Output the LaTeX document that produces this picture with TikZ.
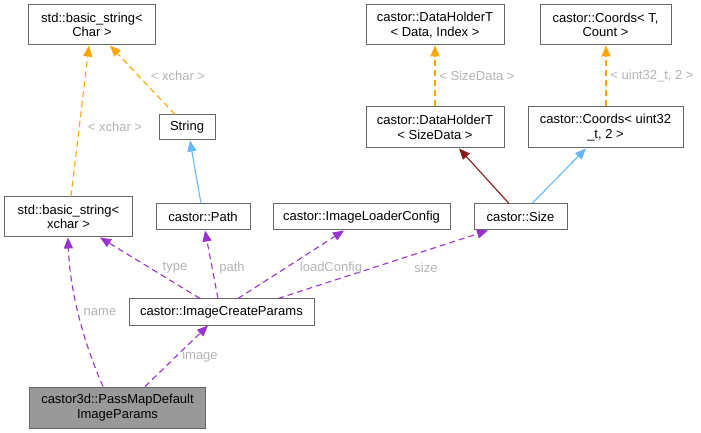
\documentclass[tikz,border=0pt]{standalone}
\usepackage{fontspec}
\setmainfont{Liberation Sans}
\usetikzlibrary{arrows.meta}
\definecolor{relpurple}{HTML}{9A32CD}
\definecolor{tplorange}{HTML}{FFA500}
\definecolor{pubblue}{HTML}{63B8FF}
\definecolor{privred}{HTML}{8B1A1A}
\definecolor{lblgray}{HTML}{B4B4B4}
\definecolor{boxgray}{HTML}{666666}
\tikzset{
  cls/.style={draw=boxgray,fill=white,line width=1bp,align=center,inner sep=0pt,font=\fontsize{13bp}{14.5bp}\selectfont},
  cur/.style={cls,fill=black!40},
  lbl/.style={text=lblgray,inner sep=0pt,font=\fontsize{13bp}{14.5bp}\selectfont},
  tip/.style={-{Triangle[length=11bp,width=9bp]}},
  usage/.style={tip,draw=relpurple,line width=1.1bp,dash pattern=on 6bp off 4bp},
  tmpl/.style={tip,draw=tplorange,line width=1.1bp,dash pattern=on 6bp off 4bp},
  pub/.style={tip,draw=pubblue,line width=1.1bp},
  priv/.style={tip,draw=privred,line width=1.1bp},
}
\begin{document}
\begin{tikzpicture}[x=1bp,y=-1bp]
\useasboundingbox (0,0) rectangle (701,433);
% classes
\node[cls,minimum width=126bp,minimum height=40bp] (strC) at (92,25) {std::basic\_string<\\Char >};
\node[cls,minimum width=56bp,minimum height=25bp] (str) at (187,127.5) {String};
\node[cls,minimum width=127bp,minimum height=40bp] (strX) at (68.5,217) {std::basic\_string<\\xchar >};
\node[cls,minimum width=94bp,minimum height=26bp] (path) at (203,217) {castor::Path};
\node[cls,minimum width=177bp,minimum height=26bp] (ilc) at (361.5,217) {castor::ImageLoaderConfig};
\node[cls,minimum width=93bp,minimum height=26bp] (size) at (520.5,217) {castor::Size};
\node[cls,minimum width=185bp,minimum height=26bp] (icp) at (221.5,312) {castor::ImageCreateParams};
\node[cur,minimum width=175bp,minimum height=41bp] (pmd) at (117.5,407.5) {castor3d::PassMapDefault\\ImageParams};
\node[cls,minimum width=138bp,minimum height=40bp] (dhT) at (435,25) {castor::DataHolderT\\< Data, Index >};
\node[cls,minimum width=131bp,minimum height=40bp] (coT) at (605.5,25) {castor::Coords< T,\\Count >};
\node[cls,minimum width=138bp,minimum height=41bp] (dhS) at (435,127.5) {castor::DataHolderT\\< SizeData >};
\node[cls,minimum width=155bp,minimum height=41bp] (coU) at (605.5,127.5) {castor::Coords< uint32\\\_t, 2 >};
% template instances
\foreach \A/\a/\B/\b in {strX/2.5bp/strC/-3bp,str/-12bp/strC/18bp,dhS/0bp/dhT/0bp,coU/0.5bp/coT/0.5bp}{\draw[tmpl] ([xshift=\a]\A.north) -- ([xshift=\b]\B.south);}
% inheritance
\draw[pub] ([xshift=-2bp]path.north) -- ([xshift=3bp]str.south);
\draw[pub] ([xshift=11.5bp]size.north) -- ([xshift=-19.5bp]coU.south);
\draw[priv] ([xshift=-11.5bp]size.north) -- ([xshift=24bp]dhS.south);
% members
\foreach \A/\a/\B/\b in {icp/-21.5bp/strX/31.5bp,icp/-3.5bp/path/2bp,icp/16.5bp/ilc/-17.5bp,icp/56.5bp/size/-32.5bp,pmd/27.5bp/icp/-13.5bp}{\draw[usage] ([xshift=\a]\A.north) -- ([xshift=\b]\B.south);}
\draw[usage] ([xshift=-14.5bp]pmd.north) .. controls (81.3,337) and (69.7,287) .. ([xshift=-0.5bp]strX.south);
\node[lbl] (lX1) at (115,127) {< xchar >};
\node[lbl] (lX2) at (178,76) {< xchar >};
\node[lbl] (lSD) at (477,76) {< SizeData >};
\node[lbl] (lU2) at (652,76) {< uint32\_t, 2 >};
\node[lbl] (lType) at (175,268) {type};
\node[lbl] (lPath) at (232,268) {path};
\node[lbl] (lLoad) at (331,268) {loadConfig};
\node[lbl] (lSize) at (426,268) {size};
\node[lbl] (lName) at (100,312) {name};
\node[lbl] (lImg) at (200,356) {image};
\end{tikzpicture}
\end{document}
